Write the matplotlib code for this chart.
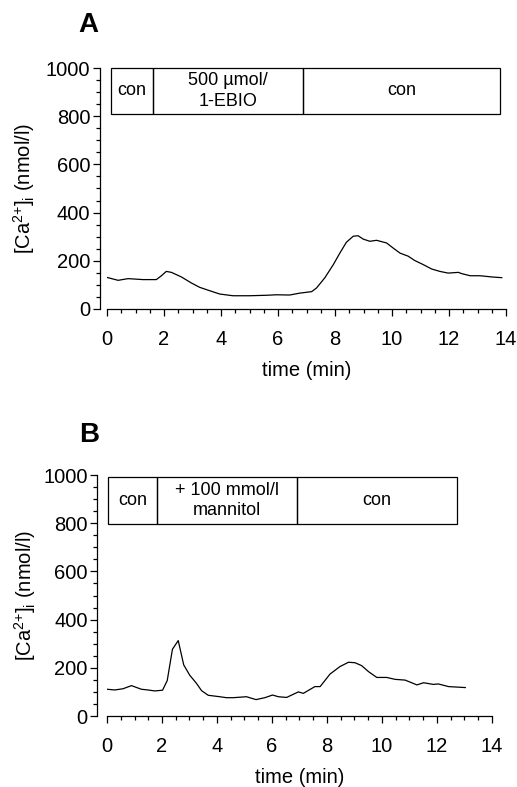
import matplotlib
matplotlib.use("Agg")
import matplotlib.pyplot as plt
from matplotlib.patches import Rectangle
from matplotlib.ticker import MultipleLocator

plt.rcParams['font.family'] = ['Liberation Sans', 'DejaVu Sans']
plt.rcParams['mathtext.default'] = 'regular'

# Panel A data
tA = [0, 0.39, 0.74, 1.26, 1.73, 1.91, 2.08, 2.26, 2.61, 2.96, 3.25, 3.6, 3.96,
      4.42, 5.0, 5.6, 5.95, 6.41, 6.77, 7.18, 7.35, 7.64, 7.94, 8.17, 8.4, 8.64,
      8.81, 8.99, 9.22, 9.46, 9.81, 10.04, 10.28, 10.57, 10.8, 11.1, 11.39,
      11.68, 11.97, 12.33, 12.44, 12.74, 13.09, 13.5, 13.85]
cA = [131, 119, 126, 122, 122, 138, 156, 152, 133, 108, 90, 76, 62,
      55, 55, 57, 59, 58, 66, 72, 87, 129, 184, 232, 277, 302,
      304, 290, 281, 285, 274, 253, 232, 219, 201, 184, 166,
      156, 149, 152, 147, 138, 138, 133, 130]

# Panel B data
tB = [0, 0.28, 0.58, 0.89, 1.25, 1.49, 1.74, 2.02, 2.19, 2.38, 2.59, 2.79, 3.01,
      3.25, 3.44, 3.68, 4.1, 4.34, 4.59, 5.07, 5.42, 5.74, 6.02, 6.23, 6.53,
      6.96, 7.14, 7.56, 7.75, 8.11, 8.47, 8.78, 9.02, 9.26, 9.51, 9.81, 10.17,
      10.48, 10.84, 11.27, 11.51, 11.87, 12.05, 12.42, 13.03]
cB = [111, 108, 113, 126, 111, 108, 104, 107, 147, 277, 313, 212, 169,
      136, 105, 86, 80, 76, 76, 80, 68, 76, 87, 80, 77,
      100, 94, 122, 122, 174, 205, 223, 221, 209, 184, 160, 160,
      152, 149, 129, 138, 131, 133, 122, 118]

# Treatment boxes
boxA_edges = [0.15, 1.6, 6.88, 13.8]
boxA_y = [810, 1000]
boxA_labels = ["con", "500 µmol/\n1-EBIO", "con"]
boxB_edges = [0.04, 1.82, 6.92, 12.72]
boxB_y = [797, 992]
boxB_labels = ["con", "+ 100 mmol/l\nmannitol", "con"]

xticks = [0, 2, 4, 6, 8, 10, 12, 14]
yticks = [0, 200, 400, 600, 800, 1000]

W, H = 517, 787
fig = plt.figure(figsize=(W / 100, H / 100), dpi=100)


def px_axes(left, right, top, bottom):
    return fig.add_axes([left / W, 1 - bottom / H, (right - left) / W, (bottom - top) / H])


def style(ax, offset):
    ax.set_xlim(0, 14)
    ax.set_ylim(0, 1000)
    for s in ('top', 'right'):
        ax.spines[s].set_visible(False)
    ax.spines['left'].set_position(('outward', offset))
    ax.spines['bottom'].set_bounds(0, 14)
    for s in ('left', 'bottom'):
        ax.spines[s].set_linewidth(0.9)
    ax.set_xticks(xticks)
    ax.set_yticks(yticks)
    ax.xaxis.set_minor_locator(MultipleLocator(0.5))
    ax.yaxis.set_minor_locator(MultipleLocator(50))
    ax.tick_params(which='major', length=5, width=0.9, labelsize=14.5)
    ax.tick_params(which='minor', length=3, width=0.9)
    ax.tick_params(axis='x', which='major', pad=10)
    ax.tick_params(axis='y', which='major', pad=2)
    ax.set_xlabel('time (min)', fontsize=14.5, labelpad=9)
    ax.set_ylabel(r'[Ca$^{2{+}}$]$_{i}$ (nmol/l)', fontsize=14.5)
    ax.yaxis.set_label_coords(-0.175, 0.5)


def boxes(ax, edges, yy, labels):
    for i, lab in enumerate(labels):
        x0, x1 = edges[i], edges[i + 1]
        ax.add_patch(Rectangle((x0, yy[0]), x1 - x0, yy[1] - yy[0], fill=False,
                               lw=0.9, ec='black', clip_on=False))
        ax.text((x0 + x1) / 2, (yy[0] + yy[1]) / 2, lab, ha='center', va='center',
                fontsize=13, linespacing=1.25)


axA = px_axes(107, 506, 68, 309)
style(axA, 5)
axA.plot(tA, cA, color='black', lw=0.9)
boxes(axA, boxA_edges, boxA_y, boxA_labels)

axB = px_axes(107, 492, 475, 716)
style(axB, 7)
axB.yaxis.set_label_coords(-0.18, 0.5)
axB.plot(tB, cB, color='black', lw=0.9)
boxes(axB, boxB_edges, boxB_y, boxB_labels)

fig.text(88 / W, 1 - 25 / H, 'A', fontsize=20, fontweight='bold', ha='center', va='center')
fig.text(89 / W, 1 - 435 / H, 'B', fontsize=20, fontweight='bold', ha='center', va='center')

fig.savefig('out.png', dpi=100)
